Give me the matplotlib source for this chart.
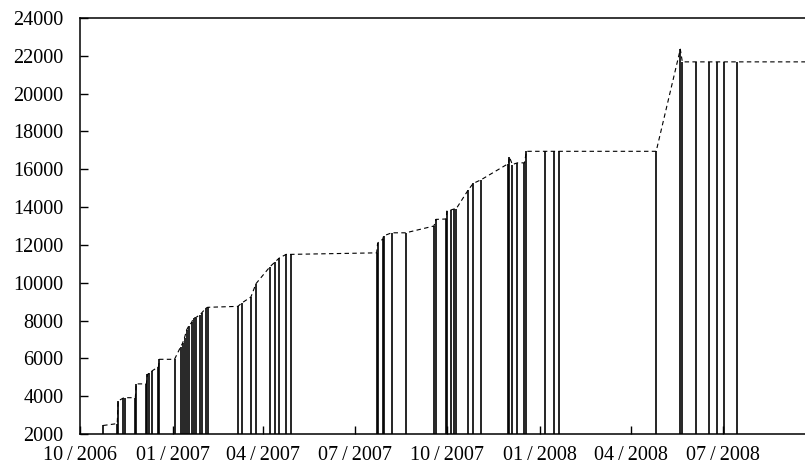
import datetime as dt
import matplotlib
matplotlib.use("Agg")
from matplotlib import pyplot as plt
import matplotlib.dates as mdates

plt.rcParams['font.family'] = ['Liberation Serif', 'DejaVu Serif']
plt.rcParams['font.size'] = 14.5

# release dates and cumulative counts
dates = [
    "2006-10-24", "2006-11-07", "2006-11-08", "2006-11-13", "2006-11-15",
    "2006-11-25", "2006-11-26", "2006-12-06", "2006-12-07", "2006-12-09",
    "2006-12-12", "2006-12-18", "2006-12-19", "2007-01-03",
    "2007-01-09", "2007-01-11", "2007-01-13", "2007-01-15", "2007-01-17",
    "2007-01-20", "2007-01-22", "2007-01-24", "2007-01-28", "2007-01-30",
    "2007-02-03", "2007-02-05",
    "2007-03-07", "2007-03-11", "2007-03-20", "2007-03-25", "2007-04-08",
    "2007-04-13", "2007-04-17", "2007-04-24", "2007-04-29",
    "2007-07-23", "2007-07-24", "2007-07-29", "2007-07-30", "2007-08-07",
    "2007-08-21",
    "2007-09-18", "2007-09-20", "2007-09-30", "2007-10-01", "2007-10-05",
    "2007-10-08", "2007-10-10",
    "2007-10-22", "2007-10-27", "2007-11-04",
    "2007-12-01", "2007-12-02", "2007-12-05", "2007-12-10", "2007-12-17",
    "2007-12-19",
    "2008-01-06", "2008-01-15", "2008-01-20",
    "2008-04-26", "2008-05-20",
    "2008-05-22", "2008-06-05", "2008-06-18", "2008-06-25", "2008-07-02",
    "2008-07-15", "2008-09-30",
]
counts = [
    2450, 2550, 3750, 3900, 3920,
    3920, 4650, 4650, 5150, 5200,
    5350, 5550, 5950, 5950,
    6600, 6800, 7100, 7500, 7700,
    7900, 8150, 8150, 8300, 8400,
    8650, 8700,
    8750, 8930, 9250, 9950, 10850,
    11100, 11300, 11500, 11500,
    11580, 12100, 12300, 12480, 12640,
    12640,
    13000, 13350, 13370, 13800, 13850,
    13900, 13900,
    14900, 15250, 15450,
    16300, 16650, 16250, 16340, 16340,
    16950,
    16950, 16950, 16950,
    16950, 22350,
    21680, 21680, 21680, 21680, 21680,
    21680, 21680,
]
y_ticks = list(range(2000, 24001, 2000))

x = [dt.datetime.strptime(d, "%Y-%m-%d") for d in dates]

fig = plt.figure(figsize=(8.05, 4.68), dpi=100)
ax = fig.add_axes([80 / 805, 34 / 468, 725 / 805, 416 / 468])

ax.vlines(x, 2000, counts, colors='k', lw=1.2)
ax.plot(x, counts, color='k', ls=(0, (4, 3)), lw=0.8)

ax.set_xlim(dt.datetime(2006, 10, 1), dt.datetime(2008, 9, 21))
ax.set_ylim(2000, 24000)
ax.set_yticks(y_ticks)
ax.xaxis.set_major_locator(mdates.MonthLocator(bymonth=[1, 4, 7, 10]))
ax.xaxis.set_major_formatter(mdates.DateFormatter("%m\u2009/\u2009%Y"))

ax.tick_params(direction='in', length=6, width=1.0)
ax.tick_params(axis='y', pad=12)
ax.tick_params(axis='x', pad=9)
for side in ['left', 'bottom', 'top']:
    ax.spines[side].set_linewidth(1.1)
ax.spines['right'].set_visible(False)

plt.savefig('out.png', dpi=100)
